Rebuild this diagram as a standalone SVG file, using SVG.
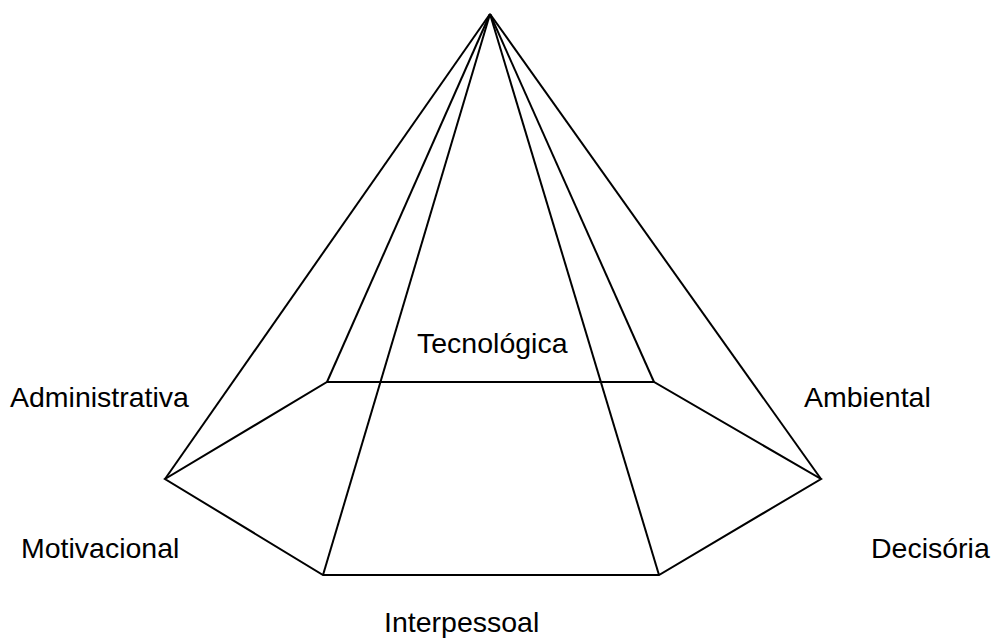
<svg xmlns="http://www.w3.org/2000/svg" width="998" height="643" viewBox="0 0 998 643">
  <style>
    .edge { stroke: #000; stroke-width: 2; fill: none; stroke-linejoin: miter; }
    .lbl { font-family: "Liberation Sans", Arial, sans-serif; font-size: 28.5px; fill: #000; }
  </style>
  <rect width="998" height="643" fill="#fff"/>
  <g id="connectors">
    <!-- base hexagon -->
    <polygon class="edge" points="327,382 654,382 821,479 659,575 323,575 165,479"/>
    <!-- edges from apex to each base vertex -->
    <line class="edge" x1="490" y1="14" x2="327" y2="382"/>
    <line class="edge" x1="490" y1="14" x2="654" y2="382"/>
    <line class="edge" x1="490" y1="14" x2="821" y2="479"/>
    <line class="edge" x1="490" y1="14" x2="659" y2="575"/>
    <line class="edge" x1="490" y1="14" x2="323" y2="575"/>
    <line class="edge" x1="490" y1="14" x2="165" y2="479"/>
  </g>
  <g id="tecnologica"><text class="lbl" x="417" y="353">Tecnológica</text></g>
  <g id="administrativa"><text class="lbl" x="10" y="407">Administrativa</text></g>
  <g id="ambiental"><text class="lbl" x="804" y="407">Ambiental</text></g>
  <g id="motivacional"><text class="lbl" x="21" y="558">Motivacional</text></g>
  <g id="decisoria"><text class="lbl" x="871" y="558">Decisória</text></g>
  <g id="interpessoal"><text class="lbl" x="384" y="632">Interpessoal</text></g>
</svg>
